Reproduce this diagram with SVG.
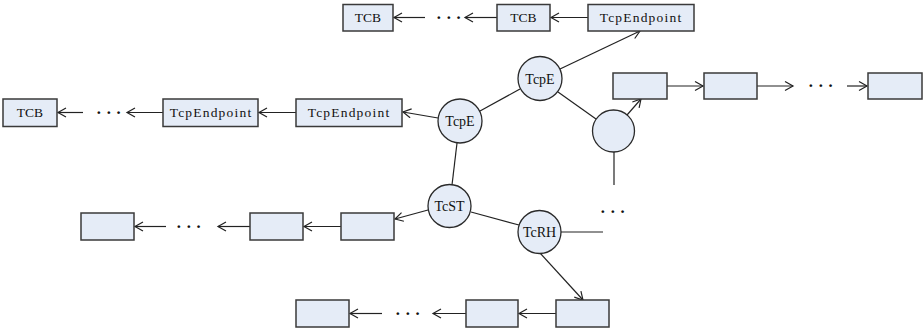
<svg xmlns="http://www.w3.org/2000/svg" width="924" height="333" viewBox="0 0 924 333">
<defs>
<marker id="arr" markerUnits="userSpaceOnUse" markerWidth="12" markerHeight="12" refX="9" refY="5" orient="auto">
<path d="M1,0.5 L9,5 L1,9.5" fill="none" stroke="#222" stroke-width="1.2"/>
</marker>
</defs>
<style>
.b{fill:#e5ecf7;stroke:#3a3a3a;stroke-width:1.5}
.c{fill:#e5ecf7;stroke:#2a2a2a;stroke-width:1.3}
.l{stroke:#222;stroke-width:1.2;fill:none}
.a{stroke:#222;stroke-width:1.2;fill:none;marker-end:url(#arr)}
.t{font-family:"Liberation Serif","Noto Sans CJK SC",serif;font-size:13.5px;fill:#111;text-anchor:middle}
.tw{letter-spacing:1.2px}
.ct{font-family:"Liberation Serif","Noto Sans CJK SC",serif;font-size:14px;fill:#111;text-anchor:middle}
.d{font-family:"Liberation Serif",serif;font-size:17px;font-weight:bold;fill:#111}
</style>
<rect width="924" height="333" fill="#fff"/>
<g id="connectors">
<line class="a" x1="588" y1="17.5" x2="551" y2="17.5"/>
<line class="a" x1="497" y1="17.5" x2="465" y2="17.5"/>
<line class="a" x1="425" y1="17.5" x2="394" y2="17.5"/>
<line class="a" x1="83" y1="112.5" x2="58" y2="112.5"/>
<line class="a" x1="163" y1="112.5" x2="127" y2="112.5"/>
<line class="a" x1="296" y1="112.5" x2="259" y2="112.5"/>
<line class="a" x1="438" y1="118" x2="403" y2="112"/>
<line class="a" x1="667" y1="86" x2="703" y2="86"/>
<line class="a" x1="757" y1="86" x2="793" y2="86"/>
<line class="a" x1="847" y1="86" x2="867" y2="86"/>
<line class="a" x1="341" y1="226.5" x2="304" y2="226.5"/>
<line class="a" x1="250" y1="226.5" x2="218" y2="226.5"/>
<line class="a" x1="166" y1="226.5" x2="135" y2="226.5"/>
<line class="a" x1="556" y1="313.5" x2="519" y2="313.5"/>
<line class="a" x1="466" y1="313.5" x2="433" y2="313.5"/>
<line class="a" x1="382" y1="313.5" x2="350" y2="313.5"/>
<line class="l" x1="480" y1="111" x2="520" y2="89"/>
<line class="a" x1="560" y1="69" x2="640" y2="31"/>
<line class="l" x1="558" y1="92" x2="596" y2="119"/>
<line class="a" x1="627" y1="115" x2="641" y2="99"/>
<line class="l" x1="614" y1="152" x2="614" y2="185"/>
<line class="l" x1="457" y1="143" x2="452" y2="185"/>
<line class="l" x1="471" y1="212" x2="519" y2="225"/>
<line class="l" x1="561" y1="232" x2="603" y2="232"/>
<line class="a" x1="428" y1="210" x2="395" y2="219"/>
<line class="a" x1="540" y1="253" x2="583" y2="300"/>
</g>
<g id="dots">
<text class="d" x="436" y="22.5">· · ·</text>
<text class="d" x="96" y="117.5">· · ·</text>
<text class="d" x="808" y="91">· · ·</text>
<text class="d" x="176" y="231.5">· · ·</text>
<text class="d" x="395" y="318.5">· · ·</text>
<text class="d" x="600" y="217">· · ·</text>
</g>
<g id="r1-tcb1"><rect class="b" x="343" y="4.5" width="50" height="26.5"/><text class="t" x="368" y="22">TCB</text></g>
<g id="r1-tcb2"><rect class="b" x="497" y="4.5" width="53" height="26.5"/><text class="t" x="523.5" y="22">TCB</text></g>
<g id="r1-ep"><rect class="b" x="588" y="4.5" width="106" height="26.5"/><text class="t tw" x="641" y="22">TcpEndpoint</text></g>
<g id="r2-tcb"><rect class="b" x="3" y="99" width="54" height="27.5"/><text class="t" x="30" y="117">TCB</text></g>
<g id="r2-ep1"><rect class="b" x="163" y="99" width="95" height="27.5"/><text class="t tw" x="211" y="117">TcpEndpoint</text></g>
<g id="r2-ep2"><rect class="b" x="296" y="99" width="106" height="27.5"/><text class="t tw" x="349" y="117">TcpEndpoint</text></g>
<g id="rr-b1"><rect class="b" x="613" y="73" width="54" height="26"/></g>
<g id="rr-b2"><rect class="b" x="704" y="73" width="53" height="26"/></g>
<g id="rr-b3"><rect class="b" x="868" y="73" width="54" height="26"/></g>
<g id="lb-b1"><rect class="b" x="81" y="213" width="53" height="27"/></g>
<g id="lb-b2"><rect class="b" x="250" y="213" width="53" height="27"/></g>
<g id="lb-b3"><rect class="b" x="341" y="213" width="53" height="27"/></g>
<g id="bt-b1"><rect class="b" x="296" y="300" width="53" height="27"/></g>
<g id="bt-b2"><rect class="b" x="466" y="300" width="52" height="27"/></g>
<g id="bt-b3"><rect class="b" x="556" y="300" width="53" height="27"/></g>
<g id="tcpe-left"><circle class="c" cx="460" cy="121" r="22"/><text class="ct" x="460" y="126">TcpE</text></g>
<g id="tcpe-top"><circle class="c" cx="540" cy="78.5" r="22"/><text class="ct" x="540" y="83.5">TcpE</text></g>
<g id="empty"><circle class="c" cx="613.5" cy="131" r="21"/></g>
<g id="tcst"><circle class="c" cx="449.5" cy="206" r="21.5"/><text class="ct" x="449.5" y="211">TcST</text></g>
<g id="tcrh"><circle class="c" cx="539.5" cy="232" r="21.5"/><text class="ct" x="539.5" y="237">TcRH</text></g>
</svg>
